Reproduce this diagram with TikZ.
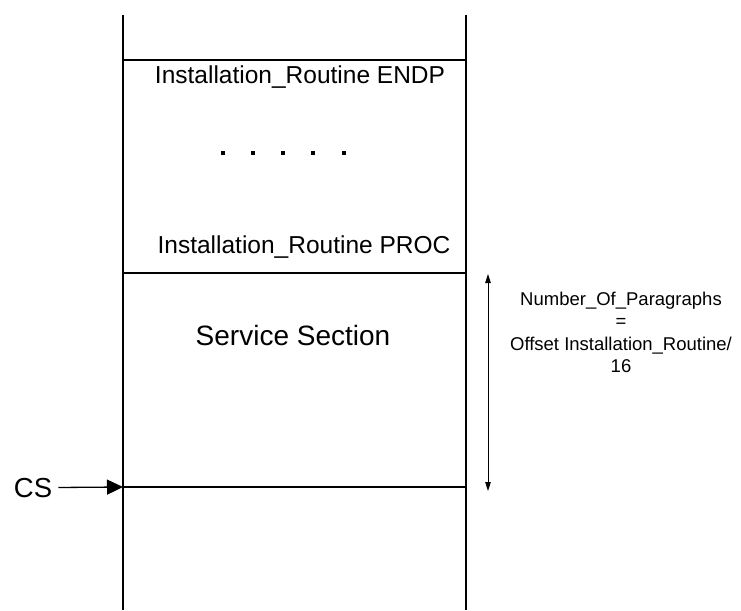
\documentclass[tikz,border=0pt]{standalone}
\usepackage{fontspec}
\setmainfont{Liberation Sans}
\usetikzlibrary{arrows.meta}
\begin{document}
\begin{tikzpicture}[x=1pt,y=-1pt,
  wall/.style={line width=1.5pt},
  lbl/.style={inner sep=0pt, anchor=base},
  dotmark/.style={fill=black, minimum size=4.5pt, inner sep=0pt, draw=none, rectangle},
  bigfont/.style={font=\fontsize{24.5}{29}\selectfont},
  sidefont/.style={font=\fontsize{18.5}{22.6}\selectfont},
]
\useasboundingbox (0,0) rectangle (741,610);
% walls
\coordinate (LT) at (123,15);
\coordinate (LB) at (123,610);
\coordinate (RT) at (466,15);
\coordinate (RB) at (466,610);
\draw[wall] (LT) -- (LB);
\draw[wall] (RT) -- (RB);
% separators
\coordinate (L1) at (123,60);  \coordinate (R1) at (466,60);
\coordinate (L2) at (123,273); \coordinate (R2) at (466,273);
\coordinate (L3) at (123,487); \coordinate (R3) at (466,487);
\draw[wall] (L1) -- (R1);
\draw[wall] (L2) -- (R2);
\draw[wall] (L3) -- (R3);
% texts
\node[lbl, bigfont] (endp) at (300,83) {Installation\_Routine ENDP};
\node[lbl, bigfont] (proc) at (304,253) {Installation\_Routine PROC};
\node[lbl, font=\fontsize{28}{33}\selectfont] (svc) at (293,345) {Service Section};
\foreach \i/\x in {1/223,2/253,3/283,4/313,5/344}
  \node[dotmark] (d\i) at (\x,153) {};
% dimension arrow
\coordinate (A1) at (488,274);
\coordinate (A2) at (488,491);
\draw[line width=0.9pt, {Triangle[length=9pt,width=5.5pt]}-{Triangle[length=9pt,width=5.5pt]}] (A1) -- (A2);
\node[sidefont, inner sep=0pt, align=center, anchor=north] (np) at (621,291.5)
  {Number\_Of\_Paragraphs\\=\\Offset Installation\_Routine/\\16};
% CS pointer
\node[lbl, font=\fontsize{27.5}{32}\selectfont] (cs) at (33,497) {CS};
\draw[line width=1.3pt, shorten <=6pt, -{Triangle[length=16pt,width=15pt]}] (cs.east) -- (L3);
\end{tikzpicture}
\end{document}
